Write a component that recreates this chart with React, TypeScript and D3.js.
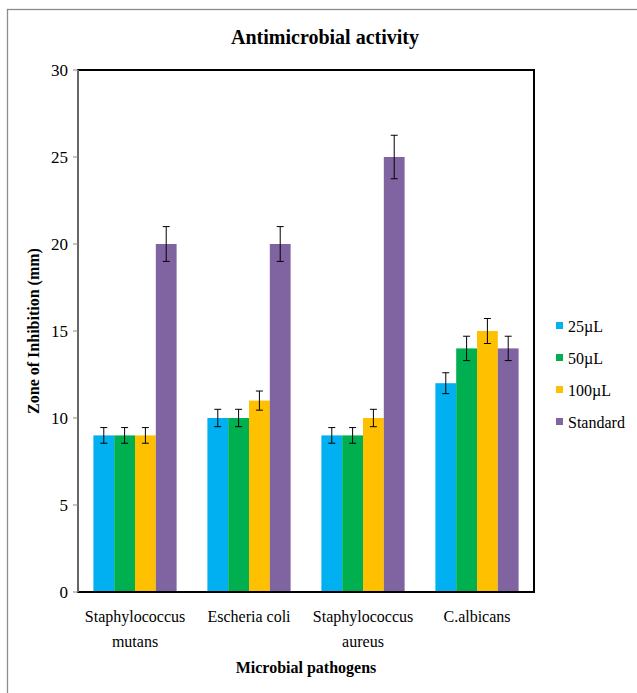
import React from "react";
import * as d3 from "d3";

const categories = [["Staphylococcus", "mutans"], ["Escheria coli"], ["Staphylococcus", "aureus"], ["C.albicans"]];
const seriesNames = ["25µL", "50µL", "100µL", "Standard"];
const seriesColors = ["#00B0F0", "#00B050", "#FFC000", "#8064A2"];
const values25 = [9, 10, 9, 12];
const values50 = [9, 10, 9, 14];
const values100 = [9, 11, 10, 15];
const valuesStd = [20, 20, 25, 14];
const err25 = [0.45, 0.5, 0.45, 0.6];
const err50 = [0.45, 0.5, 0.45, 0.7];
const err100 = [0.45, 0.55, 0.5, 0.72];
const errStd = [1.0, 1.0, 1.25, 0.7];
const yTicks = [0, 5, 10, 15, 20, 25, 30];

const W = 637, H = 693;
const M = { left: 78, right: 534, top: 70, bottom: 592 };
const FONT = "Liberation Serif, Times New Roman, serif";

export default function App() {
  const allVals = [values25, values50, values100, valuesStd];
  const allErr = [err25, err50, err100, errStd];
  const x0 = d3.scaleBand<number>().domain(d3.range(categories.length)).range([M.left, M.right]).paddingInner(0.27).paddingOuter(0.135);
  const x1 = d3.scaleBand<number>().domain(d3.range(seriesNames.length)).range([0, x0.bandwidth()]);
  const y = d3.scaleLinear().domain([0, 30]).range([M.bottom, M.top]);
  const ts = { fontFamily: FONT };

  return (
    <svg width={W} height={H} style={{ position: "absolute", left: 0, top: 0, background: "#fff", fontFamily: FONT }}>
      <rect x={7.5} y={9.5} width={W + 10} height={H + 10} fill="none" stroke="#8c8c8c" strokeWidth={1.3} />
      <text style={ts} x={325} y={44} textAnchor="middle" fontSize={20} fontWeight="bold">Antimicrobial activity</text>
      {categories.map((cat, ci) =>
        allVals.map((vals, si) => {
          const bx = (x0(ci) as number) + (x1(si) as number);
          const bw = x1.bandwidth();
          const v = vals[ci];
          const e = allErr[si][ci];
          const cx = bx + bw / 2;
          return (
            <g key={`${ci}-${si}`}>
              <rect x={bx} y={y(v)} width={bw} height={y(0) - y(v)} fill={seriesColors[si]} />
              <line x1={cx} x2={cx} y1={y(v + e)} y2={y(v - e)} stroke="#000" strokeWidth={1} />
              <line x1={cx - 3.5} x2={cx + 3.5} y1={y(v + e)} y2={y(v + e)} stroke="#000" strokeWidth={1} />
              <line x1={cx - 3.5} x2={cx + 3.5} y1={y(v - e)} y2={y(v - e)} stroke="#000" strokeWidth={1} />
            </g>
          );
        })
      )}
      <rect x={M.left} y={M.top} width={M.right - M.left} height={M.bottom - M.top} fill="none" stroke="#000" strokeWidth={2} />
      <line x1={M.left} x2={M.left} y1={M.top} y2={M.bottom} stroke="#666" strokeWidth={2} />
      {yTicks.map((t) => (
        <g key={t}>
          <line x1={M.left - 5} x2={M.left} y1={y(t)} y2={y(t)} stroke="#888" strokeWidth={1} />
          <text style={ts} x={M.left - 10} y={y(t)} dy="0.35em" textAnchor="end" fontSize={17}>{t}</text>
        </g>
      ))}
      {categories.map((cat, ci) => {
        const cx = (x0(ci) as number) + x0.bandwidth() / 2;
        return (
          <text style={ts} key={ci} x={cx} y={622} textAnchor="middle" fontSize={16}>
            {cat.map((line, li) => (
              <tspan key={li} x={cx} dy={li === 0 ? 0 : 25}>{line}</tspan>
            ))}
          </text>
        );
      })}
      <text style={ts} x={306} y={673} textAnchor="middle" fontSize={16} fontWeight="bold">Microbial pathogens</text>
      <text style={ts} transform={`translate(39, ${(M.top + M.bottom) / 2}) rotate(-90)`} textAnchor="middle" fontSize={16} fontWeight="bold">Zone of Inhibition (mm)</text>
      {seriesNames.map((s, i) => (
        <g key={s}>
          <rect x={556} y={322 + i * 32} width={7} height={7} fill={seriesColors[i]} />
          <text style={ts} x={568} y={326 + i * 32} dy="0.35em" fontSize={16}>{s}</text>
        </g>
      ))}
    </svg>
  );
}
